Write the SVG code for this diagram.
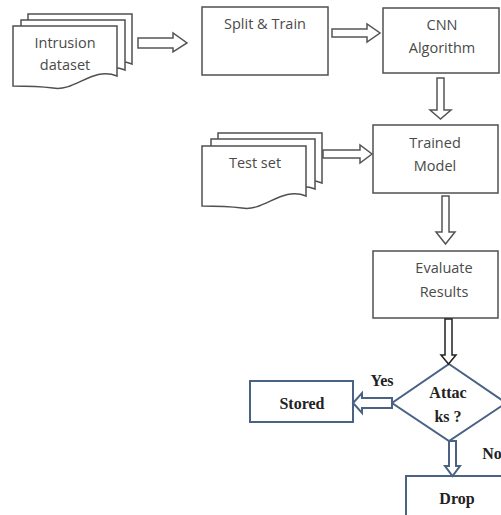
<svg xmlns="http://www.w3.org/2000/svg" width="501" height="515" viewBox="0 0 501 515">
<defs>
<style>
.doc{fill:#fff;stroke:#505050;stroke-width:1.5}
.box{fill:#fff;stroke:#505050;stroke-width:1.5}
.bbox{fill:#fff;stroke:#4a6385;stroke-width:2}
.arr{fill:#fff;stroke:#555;stroke-width:1.5;stroke-linejoin:miter}
.barr{fill:#fff;stroke:#4a6385;stroke-width:2}
.karr{fill:#fff;stroke:#222;stroke-width:1.5}
.t{font-family:"Open Sans","Liberation Sans",sans-serif;font-size:14.5px;fill:#4a4a4a;text-anchor:middle}
.s{font-family:"Liberation Serif",serif;font-weight:bold;font-size:16px;fill:#222;text-anchor:middle}
</style>
<path id="docshape" d="M0,0 H104 V50 C80,40 62,66 40,62 C24,60 12,60 0,60 Z"/>
</defs>
<rect width="501" height="515" fill="#fff"/>
<g id="intrusion">
<use href="#docshape" class="doc" x="28" y="14"/>
<use href="#docshape" class="doc" x="21" y="20"/>
<use href="#docshape" class="doc" x="13" y="26"/>
<text class="t" x="65" y="48">Intrusion</text>
<text class="t" x="65" y="70">dataset</text>
</g>
<g id="split">
<rect class="box" x="202" y="7" width="126" height="68"/>
<text class="t" x="265" y="29">Split &amp; Train</text>
</g>
<g id="cnn">
<rect class="box" x="383" y="8" width="116" height="65"/>
<text class="t" x="442" y="30">CNN</text>
<text class="t" x="442" y="53">Algorithm</text>
</g>
<g id="testset">
<use href="#docshape" class="doc" x="218" y="133"/>
<use href="#docshape" class="doc" x="211" y="139"/>
<use href="#docshape" class="doc" x="202" y="146"/>
<text class="t" x="255" y="168">Test set</text>
</g>
<g id="trained">
<rect class="box" x="373" y="125" width="125" height="68"/>
<text class="t" x="435" y="148">Trained</text>
<text class="t" x="435" y="171">Model</text>
</g>
<g id="evaluate">
<rect class="box" x="373" y="251" width="125" height="67"/>
<text class="t" x="444" y="273">Evaluate</text>
<text class="t" x="444" y="297">Results</text>
</g>
<g id="attacks">
<polygon class="bbox" points="449,364 506,403 449,441 392,403"/>
<text class="s" x="448" y="398">Attac</text>
<text class="s" x="448" y="422">ks ?</text>
</g>
<g id="stored">
<rect class="bbox" x="250" y="381" width="103" height="41"/>
<text class="s" x="302" y="409">Stored</text>
</g>
<g id="drop">
<rect class="bbox" x="406" y="476" width="110" height="50"/>
<text class="s" x="457" y="504">Drop</text>
</g>
<g id="connectors">
<polygon class="arr" points="138,38 173,38 173,33 187,43 173,52 173,48 138,48"/>
<polygon class="arr" points="332,29 367,29 367,24 380,33 367,42 367,37 332,37"/>
<polygon class="arr" points="437,78 444,78 444,110 451,110 440.5,119 430,110 437,110"/>
<polygon class="arr" points="323,150 360,150 360,145 372,154 360,163 360,158 323,158"/>
<polygon class="arr" points="442,196 449,196 449,232 455,232 445.5,244 436,232 442,232"/>
<polygon class="karr" points="445,319 452,319 452,355 456,355 448.5,364 441,355 445,355"/>
<polygon class="barr" points="392,398 362,398 362,393 353,403 362,413 362,408 392,408"/>
<polygon class="barr" points="449,441 456,441 456,466 460,466 452.5,476 445,466 449,466"/>
<text class="s" x="382" y="386">Yes</text>
<text class="s" x="492" y="459">No</text>
</g>
</svg>
